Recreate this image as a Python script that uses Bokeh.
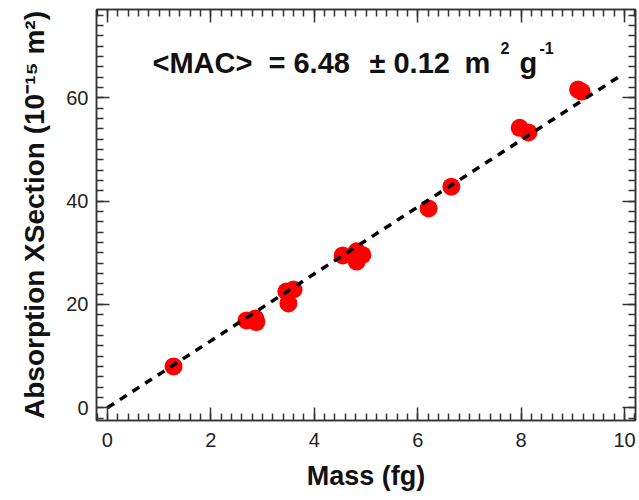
import math
from bokeh.plotting import figure
from bokeh.models import (Range1d, LinearAxis, Label, ColumnDataSource,
                          SingleIntervalTicker, CustomJSTickFormatter)
from bokeh.embed import file_html
from bokeh.resources import INLINE

# ---- data ----
mass = [1.28, 2.69, 2.86, 2.88, 3.46, 3.60, 3.50, 4.55, 4.82, 4.82, 4.93,
        6.21, 6.65, 7.97, 8.14, 9.10, 9.17]
xsection = [8.0, 16.9, 17.3, 16.6, 22.5, 22.9, 20.2, 29.5, 30.3, 28.3, 29.6,
            38.6, 42.8, 54.2, 53.3, 61.6, 61.2]
mac = 6.48
mac_err = 0.12
fit_x = [0.0, 9.95]
fit_y = [mac * v for v in fit_x]
x_ticks_interval = 2
y_ticks_interval = 20
x_title = "Mass (fg)"
y_title = "Absorption XSection (10\u207b\u00b9\u2075 m\u00b2)"

FONT = "Liberation Sans"
AX = "#333333"

p = figure(width=639, height=498, output_backend="svg", toolbar_location=None,
           x_range=Range1d(-0.21, 10.21), y_range=Range1d(-2.46, 77.1),
           min_border_left=96, min_border_right=4, min_border_top=9, min_border_bottom=78)
p.grid.visible = False
p.outline_line_color = AX
p.outline_line_width = 1.5
p.background_fill_color = "white"
p.border_fill_color = "white"

src = ColumnDataSource(dict(x=mass, y=xsection))
p.scatter("x", "y", source=src, size=18, fill_color="#ff0000", line_color=None)
p.line(fit_x, fit_y, line_color="black", line_width=3.5, line_dash="8 7")


def style(ax, labels=True):
    ax.axis_line_color = AX
    ax.axis_line_width = 1.5
    ax.major_tick_line_color = AX
    ax.major_tick_line_width = 1.5
    ax.minor_tick_line_color = AX
    ax.minor_tick_line_width = 1.5
    ax.major_tick_in = 13
    ax.major_tick_out = 0
    ax.minor_tick_in = 7
    ax.minor_tick_out = 0
    ax.major_label_text_font = FONT
    ax.major_label_text_font_size = "20px"
    ax.major_label_text_color = "#222222"
    ax.axis_label_text_font = FONT
    ax.axis_label_text_font_size = "27px"
    ax.axis_label_text_font_style = "bold"
    ax.axis_label_text_color = "#111111"
    if not labels:
        ax.formatter = CustomJSTickFormatter(code="return ''")
        ax.major_label_standoff = 0


p.xaxis.ticker = SingleIntervalTicker(interval=x_ticks_interval, num_minor_ticks=10)
p.yaxis.ticker = SingleIntervalTicker(interval=y_ticks_interval, num_minor_ticks=10)
style(p.xaxis[0])
style(p.yaxis[0])
p.xaxis.major_label_standoff = 12
p.yaxis.major_label_standoff = 8
p.xaxis.axis_label = x_title
p.yaxis.axis_label = y_title
p.yaxis.axis_label_text_font_size = "28px"
p.xaxis.axis_label_standoff = 11
p.yaxis.axis_label_standoff = 13

top = LinearAxis(ticker=SingleIntervalTicker(interval=x_ticks_interval, num_minor_ticks=10))
right = LinearAxis(ticker=SingleIntervalTicker(interval=y_ticks_interval, num_minor_ticks=10))
style(top, labels=False)
style(right, labels=False)
p.add_layout(top, "above")
p.add_layout(right, "right")


def lab(x, y, text, size, bold=True):
    p.add_layout(Label(x=x, y=y, x_units="screen", y_units="screen", text=text,
                       text_font=FONT, text_font_size=size,
                       text_font_style="bold" if bold else "normal",
                       text_color="#111111", text_baseline="alphabetic",
                       text_align="left"))


# annotation <MAC> = 6.48 ± 0.12 m^2 g^-1
lab(56, 358, "<MAC>", "29px")
lab(172, 358, "= %.2f" % mac, "29px")
lab(273, 358, "\u00b1 %.2f" % mac_err, "29px")
lab(368, 358, "m", "29px")
lab(404, 373, "2", "16px")
lab(423, 358, "g", "29px")
lab(443, 373, "-1", "16px")

open("out.html", "w").write(file_html(p, INLINE))
